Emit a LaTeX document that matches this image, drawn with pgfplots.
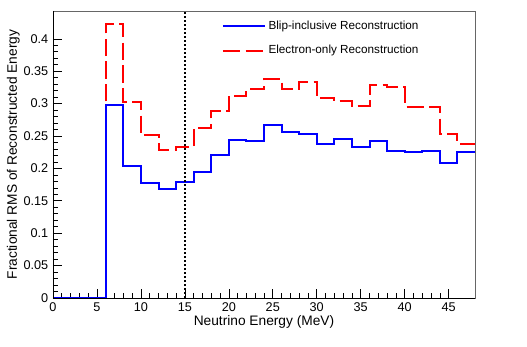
\documentclass[border=0pt]{standalone}
\usepackage{fontspec}
\setmainfont{Liberation Sans}
\usepackage{pgfplots}
\pgfplotsset{compat=1.18}

% histogram contents, 2 MeV bins (left edges), last row repeats final bin
\begin{document}
\begin{tikzpicture}
\begin{axis}[
    scale only axis,
    width=316.5pt, height=215.25pt,
    xmin=0, xmax=48, ymin=0, ymax=0.443,
    xtick={0,5,...,45}, ytick={0,0.05,...,0.4},
    minor x tick num=4, minor y tick num=4,
    xtick pos=bottom, ytick pos=left,
    tick align=inside,
    major tick length=7pt, minor tick length=4pt,
    tick style={black, line width=0.5pt},
    axis line style={draw=gray!80!black, line width=0.6pt},
    /pgf/number format/assume math mode=true,
    yticklabel style={/pgf/number format/fixed, /pgf/number format/precision=2, font=\fontsize{9.5}{10}\selectfont},
    xticklabel style={font=\fontsize{9.5}{10}\selectfont},
    xlabel={Neutrino Energy (MeV)},
    ylabel={Fractional RMS of Reconstructed Energy},
    label style={font=\fontsize{10.3}{12}\selectfont},
    xlabel style={yshift=4pt},
    ylabel style={yshift=-4pt},
    legend style={draw=none, fill=none, at={(0.39,0.985)}, anchor=north west,
        font=\fontsize{8.8}{10}\selectfont, row sep=6.5pt},
    legend cell align=left,
    reverse legend,
    legend image code/.code={\draw[#1] (0pt,0pt) -- (31.5pt,0pt);},
]
\addplot[red, line width=1.5pt, dash pattern=on 13pt off 4pt, const plot mark left] coordinates {
(0,0) (2,0) (4,0) (6,0.4227) (8,0.303) (10,0.251) (12,0.2286) (14,0.2337)
(16,0.263) (18,0.289) (20,0.312) (22,0.322) (24,0.338) (26,0.323) (28,0.334)
(30,0.309) (32,0.304) (34,0.297) (36,0.3285) (38,0.325) (40,0.2955) (42,0.2955)
(44,0.253) (46,0.238) (48,0.238)
};
\addplot[blue, line width=1.5pt, const plot mark left] coordinates {
(0,0) (2,0) (4,0) (6,0.2976) (8,0.203) (10,0.1776) (12,0.169) (14,0.179)
(16,0.194) (18,0.220) (20,0.244) (22,0.243) (24,0.2667) (26,0.256) (28,0.253)
(30,0.238) (32,0.2456) (34,0.2327) (36,0.242) (38,0.227) (40,0.225) (42,0.2275)
(44,0.2085) (46,0.226) (48,0.226)
};
\addplot[black, line width=1.8pt, dash pattern=on 1.5pt off 1.5pt, forget plot] coordinates {(15,0) (15,0.443)};
\legend{Electron-only Reconstruction, Blip-inclusive Reconstruction}
\draw[black, line width=0.6pt] (rel axis cs:0,1) -- (rel axis cs:0,0) -- (rel axis cs:1,0);
\end{axis}
\path ([xshift=-39.75pt,yshift=-36pt]current axis.south west) rectangle ([xshift=39pt,yshift=8.25pt]current axis.north east);
\end{tikzpicture}
\end{document}
